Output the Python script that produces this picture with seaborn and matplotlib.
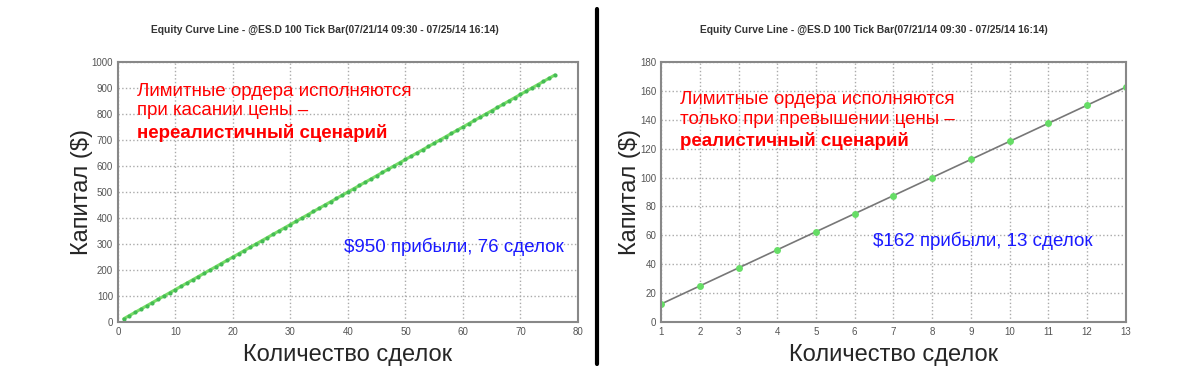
import matplotlib
matplotlib.use("Agg")
import matplotlib.pyplot as plt
from matplotlib.lines import Line2D
from matplotlib.ticker import MultipleLocator
import seaborn as sns
import pandas as pd

# Equity per trade
left_equity = [
    12.5, 25, 37.5, 50, 62.5, 75, 87.5, 100, 112.5, 125, 137.5, 150, 162.5, 175,
    187.5, 200, 212.5, 225, 237.5, 250, 262.5, 275, 287.5, 300, 312.5, 325, 337.5,
    350, 362.5, 375, 387.5, 400, 412.5, 425, 437.5, 450, 462.5, 475, 487.5, 500,
    512.5, 525, 537.5, 550, 562.5, 575, 587.5, 600, 612.5, 625, 637.5, 650, 662.5,
    675, 687.5, 700, 712.5, 725, 737.5, 750, 762.5, 775, 787.5, 800, 812.5, 825,
    837.5, 850, 862.5, 875, 887.5, 900, 912.5, 925, 937.5, 950,
]
right_equity = [12.5, 25, 37.5, 50, 62.5, 75, 87.5, 100, 112.5, 125, 137.5, 150, 162.5]

title = "Equity Curve Line - @ES.D 100 Tick Bar(07/21/14 09:30 - 07/25/14 16:14)"
xlab = "Количество сделок"
ylab = "Капитал ($)"
left_note = ["Лимитные ордера исполняются", "при касании цены –", "нереалистичный сценарий"]
right_note = ["Лимитные ордера исполняются", "только при превышении цены –", "реалистичный сценарий"]
left_profit = "$950 прибыли, 76 сделок"
right_profit = "$162 прибыли, 13 сделок"

df_l = pd.DataFrame({"trade": range(1, len(left_equity) + 1), "equity": left_equity})
df_r = pd.DataFrame({"trade": range(1, len(right_equity) + 1), "equity": right_equity})

sns.set_style("white")
plt.rcParams["font.family"] = ["Liberation Sans", "DejaVu Sans"]

fig = plt.figure(figsize=(12, 3.71), dpi=100)
ax1 = fig.add_axes([0.0983, 0.132, 0.3833, 0.701])
ax2 = fig.add_axes([0.551, 0.132, 0.387, 0.701])

sns.lineplot(data=df_l, x="trade", y="equity", ax=ax1, color="#77dd66", lw=2.2,
             marker="o", markersize=3, markerfacecolor="#44bb55", markeredgewidth=0)
sns.lineplot(data=df_r, x="trade", y="equity", ax=ax2, color="#777777", lw=1.2,
             marker="o", markersize=5, markerfacecolor="#66dd66", markeredgewidth=0)

ax1.set_xlim(0, 80)
ax1.set_ylim(0, 1000)
ax1.xaxis.set_major_locator(MultipleLocator(10))
ax1.xaxis.set_minor_locator(MultipleLocator(5))
ax1.yaxis.set_major_locator(MultipleLocator(100))
ax1.yaxis.set_minor_locator(MultipleLocator(50))

ax2.set_xlim(1, 13)
ax2.set_ylim(0, 180)
ax2.xaxis.set_major_locator(MultipleLocator(1))
ax2.xaxis.set_minor_locator(MultipleLocator(0.5))
ax2.yaxis.set_major_locator(MultipleLocator(20))
ax2.yaxis.set_minor_locator(MultipleLocator(10))

for ax, note, profit, px, py, ny, tx in [
    (ax1, left_note, left_profit, 0.491, 0.290, [0.888, 0.812, 0.727], 0.45),
    (ax2, right_note, right_profit, 0.457, 0.312, [0.854, 0.777, 0.696], 0.457),
]:
    ax.grid(True, which="major", color="#aaaaaa", linestyle=":", lw=1)
    for s in ax.spines.values():
        s.set_color("#888888")
        s.set_linewidth(1.5)
    ax.tick_params(which="both", direction="in", colors="#333333", labelcolor="#555555",
                   labelsize=7, length=3, width=1)
    ax.tick_params(which="minor", length=2)
    ax.set_title(title, fontsize=7.4, color="#333333", fontweight="bold", pad=21, x=tx)
    ax.set_xlabel(xlab, fontsize=17, labelpad=5)
    ax.set_ylabel(ylab, fontsize=17, labelpad=-1)
    for i, line in enumerate(note):
        ax.text(0.041, ny[i], line, transform=ax.transAxes, color="#ff0000", fontsize=13.5,
                va="center", fontweight="bold" if i == 2 else "normal")
    ax.text(px, py, profit, transform=ax.transAxes, color="#1a1aff", fontsize=13.5, va="center")

fig.add_artist(Line2D([0.4975, 0.4975], [0.02, 0.975], color="black", lw=3))

fig.savefig("out.png", dpi=100, facecolor="white")
